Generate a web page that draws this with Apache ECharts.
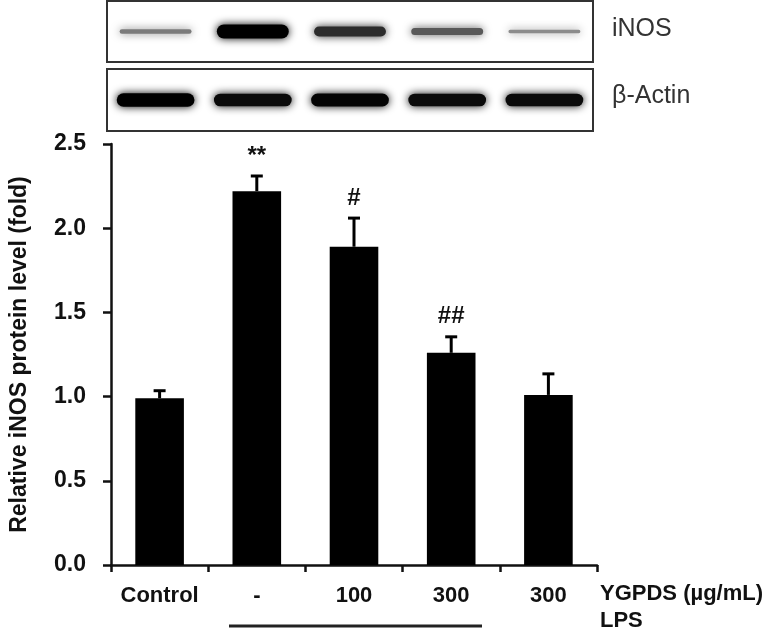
<!DOCTYPE html>
<html>
<head>
<meta charset="utf-8">
<script src="https://cdn.jsdelivr.net/npm/echarts@6/dist/echarts.min.js"></script>
<style>html,body{margin:0;padding:0;background:#fff;}#c{width:772px;height:634px;}</style>
</head>
<body>
<div id="c"></div>
<script>
// ---- data ----
const categories = ['Control', '-', '100', '300', '300'];
const means = [0.99, 2.22, 1.89, 1.26, 1.01];
const errors = [0.045, 0.09, 0.17, 0.095, 0.125];
const significance = ['', '**', '#', '##', ''];
const yTicks = [0, 0.5, 1.0, 1.5, 2.0, 2.5];
const inosBands = [0.22, 1.0, 0.68, 0.42, 0.12];
const actinBands = [0.95, 0.88, 0.92, 0.88, 0.88];
const xAxisTitle = 'YGPDS (µg/mL)';
const lpsTitle = 'LPS';
const yAxisTitle = 'Relative iNOS protein level (fold)';
const blotLabels = ['iNOS', 'β-Actin'];

const FONT = '"Liberation Sans", Arial, sans-serif';
const chart = echarts.init(document.getElementById('c'), null, {renderer: 'canvas'});

function bandRender(widthFrac) {
  return function (params, api) {
    const idx = api.value(0);
    const inten = api.value(1);
    const c = api.coord([idx, 0.5]);
    const laneW = api.size([1, 0])[0];
    const w = laneW * widthFrac;
    const h = 2 + 12 * inten;
    const g = Math.round(Math.max(0, 160 - 170 * inten));
    const col = 'rgb(' + g + ',' + g + ',' + g + ')';
    return {
      type: 'rect',
      shape: {x: c[0] - w / 2, y: c[1] - h / 2, width: w, height: h, r: h / 2},
      style: {fill: col, shadowBlur: 8, shadowColor: col}
    };
  };
}

const option = {
  animation: false,
  backgroundColor: '#fff',
  grid: [
    {left: 108, right: 175, top: 144, bottom: 67},
    {left: 107, right: 179, top: 1, height: 61, show: true, borderColor: '#333', borderWidth: 2, backgroundColor: '#fff'},
    {left: 107, right: 179, top: 69, height: 62, show: true, borderColor: '#333', borderWidth: 2, backgroundColor: '#fff'}
  ],
  xAxis: [
    {
      gridIndex: 0, type: 'category', data: categories,
      axisLine: {lineStyle: {color: '#111', width: 2.5}},
      axisTick: {show: true, length: 7, lineStyle: {color: '#111', width: 2.5}},
      axisLabel: {interval: 0, margin: 20, color: '#111', fontFamily: FONT, fontWeight: 'bold', fontSize: 22},
      name: xAxisTitle + '\n' + lpsTitle,
      nameLocation: 'end', nameGap: 3,
      nameTextStyle: {align: 'left', verticalAlign: 'top', padding: [15, 0, 0, 0], lineHeight: 27,
        color: '#111', fontFamily: FONT, fontWeight: 'bold', fontSize: 22}
    },
    {gridIndex: 1, type: 'category', data: categories, show: false},
    {gridIndex: 2, type: 'category', data: categories, show: false}
  ],
  yAxis: [
    {
      gridIndex: 0, type: 'value', min: yTicks[0], max: yTicks[yTicks.length - 1], interval: 0.5,
      splitLine: {show: false},
      axisLine: {show: true, lineStyle: {color: '#111', width: 2.5}},
      axisTick: {show: true, length: 8, lineStyle: {color: '#111', width: 2.5}},
      axisLabel: {margin: 25, color: '#111', fontFamily: FONT, fontWeight: 'bold', fontSize: 23,
        formatter: v => v.toFixed(1)},
      name: yAxisTitle, nameLocation: 'middle', nameGap: 80,
      nameTextStyle: {color: '#111', fontFamily: FONT, fontWeight: 'bold', fontSize: 23}
    },
    {gridIndex: 1, type: 'value', min: 0, max: 1, show: false},
    {gridIndex: 2, type: 'value', min: 0, max: 1, show: false}
  ],
  series: [
    {
      type: 'bar', xAxisIndex: 0, yAxisIndex: 0, data: means, barWidth: '50%',
      itemStyle: {color: '#000'}
    },
    {
      type: 'custom', xAxisIndex: 0, yAxisIndex: 0,
      data: means.map((m, i) => [i, m, errors[i], significance[i]]),
      renderItem: function (params, api) {
        const i = api.value(0), m = api.value(1), e = api.value(2);
        const base = api.coord([i, m]);
        const top = api.coord([i, m + e]);
        const children = [
          {type: 'line', shape: {x1: top[0], y1: base[1], x2: top[0], y2: top[1]}, style: {stroke: '#000', lineWidth: 3}},
          {type: 'line', shape: {x1: top[0] - 6, y1: top[1], x2: top[0] + 6, y2: top[1]}, style: {stroke: '#000', lineWidth: 3}}
        ];
        const s = significance[params.dataIndex];
        if (s) {
          children.push({type: 'text', style: {text: s, x: top[0], y: top[1] - 20, align: 'center', verticalAlign: 'middle',
            fill: '#111', font: 'bold 24px ' + FONT}});
        }
        return {type: 'group', children: children};
      },
      z: 3
    },
    {
      type: 'custom', xAxisIndex: 1, yAxisIndex: 1,
      data: inosBands.map((v, i) => [i, v]),
      renderItem: bandRender(0.74)
    },
    {
      type: 'custom', xAxisIndex: 2, yAxisIndex: 2,
      data: actinBands.map((v, i) => [i, v]),
      renderItem: bandRender(0.8)
    }
  ],
  graphic: [
    {type: 'text', left: 612, top: 17, style: {text: blotLabels[0], fill: '#333', font: '25px ' + FONT}},
    {type: 'text', left: 612, top: 84, style: {text: blotLabels[1], fill: '#333', font: '25px ' + FONT}},
    {type: 'line', shape: {x1: 229, y1: 626, x2: 482, y2: 626}, style: {stroke: '#222', lineWidth: 3}}
  ]
};
chart.setOption(option);
</script>
</body>
</html>
